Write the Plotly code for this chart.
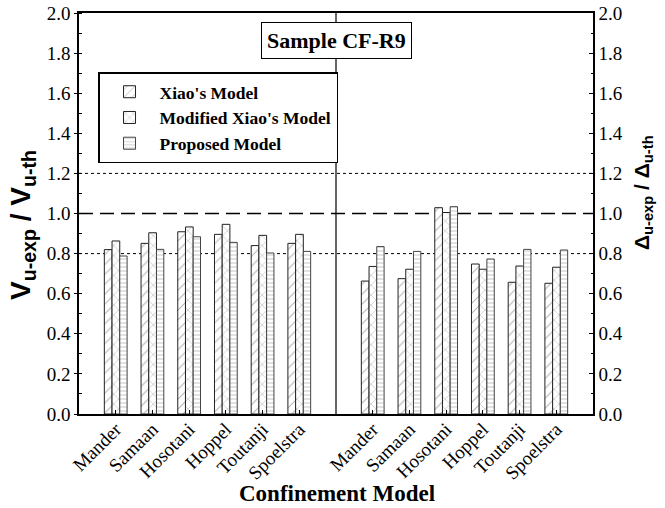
import plotly.graph_objects as go

categories = ["Mander", "Samaan", "Hosotani", "Hoppel", "Toutanji", "Spoelstra"]
series_names = ["Xiao's Model", "Modified Xiao's Model", "Proposed Model"]

# Strength ratio V_u-exp / V_u-th (left axis)
strength_xiao = [0.820, 0.851, 0.909, 0.896, 0.840, 0.851]
strength_mod = [0.863, 0.904, 0.933, 0.946, 0.891, 0.896]
strength_prop = [0.788, 0.821, 0.884, 0.856, 0.803, 0.811]

# Strain ratio Δ_u-exp / Δ_u-th (right axis)
strain_xiao = [0.663, 0.675, 1.029, 0.748, 0.657, 0.652]
strain_mod = [0.736, 0.722, 1.005, 0.722, 0.738, 0.732]
strain_prop = [0.835, 0.811, 1.034, 0.773, 0.821, 0.818]

ref_dotted = [0.8, 1.2]
ref_dashed = [1.0]
y_ticks = [0.0, 0.2, 0.4, 0.6, 0.8, 1.0, 1.2, 1.4, 1.6, 1.8, 2.0]

n = len(categories)
left_x = list(range(n))
divider_x = n
right_x = [n + 1 + i for i in range(n)]

patterns = [
    dict(shape="/", fgcolor="#666666", bgcolor="white", size=7, solidity=0.15),
    dict(shape="x", fgcolor="#666666", bgcolor="white", size=7, solidity=0.15),
    dict(shape="-", fgcolor="#8a8a8a", bgcolor="white", size=4, solidity=0.25),
]
offsets = [-0.31, -0.1, 0.11]
widths = [0.21, 0.21, 0.2]
edge_colors = ["#222", "#222", "#444"]

fig = go.Figure()
left_vals = [strength_xiao, strength_mod, strength_prop]
right_vals = [strain_xiao, strain_mod, strain_prop]
for i, name in enumerate(series_names):
    fig.add_trace(go.Bar(
        x=left_x, y=left_vals[i], name=f"<b>{name}</b>", legendgroup=name,
        width=widths[i], offset=offsets[i], yaxis="y",
        marker=dict(color="white", pattern=patterns[i],
                    line=dict(color=edge_colors[i], width=1)),
    ))
for i, name in enumerate(series_names):
    fig.add_trace(go.Bar(
        x=right_x, y=right_vals[i], name=f"<b>{name}</b>", legendgroup=name, showlegend=False,
        width=widths[i], offset=offsets[i], yaxis="y2",
        marker=dict(color="white", pattern=patterns[i],
                    line=dict(color=edge_colors[i], width=1)),
    ))

shapes = []
for v in ref_dotted:
    shapes.append(dict(type="line", xref="paper", yref="y", x0=0, x1=1, y0=v, y1=v,
                       line=dict(color="black", width=1, dash="3px,3px"), layer="below"))
for v in ref_dashed:
    shapes.append(dict(type="line", xref="paper", yref="y", x0=0, x1=1, y0=v, y1=v,
                       line=dict(color="black", width=1.5, dash="14px,7px"), layer="below"))
shapes.append(dict(type="line", xref="x", yref="paper", x0=divider_x, x1=divider_x, y0=0, y1=1,
                   line=dict(color="black", width=1.2), layer="below"))

serif = "Liberation Serif, Times New Roman, serif"
sans = "Liberation Sans, Arial, sans-serif"

fig.update_layout(
    width=665, height=508,
    margin=dict(l=79, r=72, t=13, b=94, autoexpand=False),
    paper_bgcolor="white", plot_bgcolor="white",
    font=dict(family=serif, color="black", size=18),
    barmode="overlay",
    shapes=shapes,
    xaxis=dict(
        range=[-1, 2 * n + 1],
        tickvals=left_x + right_x, ticktext=categories + categories,
        tickangle=-45, tickfont=dict(family=serif, size=19),
        ticks="inside", ticklen=4, tickcolor="black", ticklabelstandoff=-5,
        showline=True, linecolor="black", linewidth=1.5, mirror=True,
        showgrid=False, zeroline=False, automargin=False,
    ),
    yaxis=dict(
        range=[0, 2.0], tickvals=y_ticks, ticktext=[f"{t:.1f}" for t in y_ticks],
        tickfont=dict(family=serif, size=19),
        ticks="outside", ticklen=3, tickcolor="black",
        minor=dict(dtick=0.1, ticks="inside", ticklen=3, tickcolor="black"),
        showline=True, linecolor="black", linewidth=1.5,
        showgrid=False, zeroline=False, automargin=False,
    ),
    yaxis2=dict(
        range=[0, 2.0], tickvals=y_ticks, ticktext=[f"{t:.1f}" for t in y_ticks],
        tickfont=dict(family=serif, size=19),
        overlaying="y", side="right",
        ticks="inside", ticklen=4, tickcolor="black",
        minor=dict(dtick=0.1, ticks="inside", ticklen=2, tickcolor="black"),
        showline=True, linecolor="black", linewidth=1.5,
        showgrid=False, zeroline=False, automargin=False,
    ),
    legend=dict(
        x=0.037, y=0.852, xanchor="left", yanchor="top",
        bgcolor="white", bordercolor="black", borderwidth=1.5,
        font=dict(family=serif, size=17.5, color="black"),
        itemwidth=50, tracegroupgap=0,
    ),
    annotations=[
        dict(text="<b>Sample CF-R9</b>", x=divider_x, xref="x", y=1.863, yref="y",
             xanchor="center", yanchor="middle",
             showarrow=False, font=dict(family=serif, size=22),
             bgcolor="white", bordercolor="black", borderwidth=1, borderpad=5),
        dict(text="<b>Confinement Model</b>", xref="paper", yref="paper",
             x=(337 - 79) / 514, y=(414 - 493) / 401, xanchor="center", yanchor="middle",
             showarrow=False, font=dict(family=serif, size=23)),
        dict(text="<b>V<sub>u-exp</sub> / V<sub>u-th</sub></b>", xref="paper", yref="paper",
             x=(23 - 79) / 514, y=(414 - 225) / 401, xanchor="center", yanchor="middle",
             textangle=-90, showarrow=False, font=dict(family=sans, size=28)),
        dict(text="<b>Δ<sub>u-exp</sub> / Δ<sub>u-th</sub></b>", xref="paper", yref="paper",
             x=(643 - 79) / 514, y=(414 - 193) / 401, xanchor="center", yanchor="middle",
             textangle=-90, showarrow=False, font=dict(family=sans, size=21)),
    ],
)

fig.write_html("out.html")
